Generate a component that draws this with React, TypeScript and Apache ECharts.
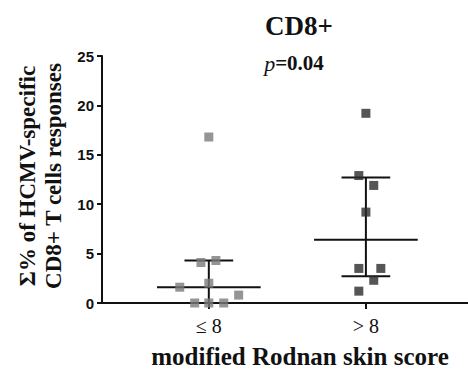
import React, { useEffect, useRef } from "react";
import * as echarts from "echarts";

const groups = ["≤ 8", "> 8"];
const yTicks = [0, 5, 10, 15, 20, 25];
const lowValues = [16.8, 4.1, 4.3, 2.0, 1.6, 0.8, 0, 0, 0];
const lowJitter = [0, -0.05, 0.045, 0, -0.185, 0.19, -0.09, 0, 0.095];
const highValues = [19.2, 12.9, 11.9, 9.2, 3.5, 3.5, 2.3, 1.2];
const highJitter = [0, -0.045, 0.05, 0, -0.045, 0.095, 0.05, -0.045];
const medians = [1.6, 6.4];
const q1 = [0, 2.7];
const q3 = [4.3, 12.7];

export default function App() {
  const ref = useRef<HTMLDivElement>(null);
  useEffect(() => {
    if (!ref.current) return;
    const chart = echarts.init(ref.current, null, { renderer: "svg" });
    const lineStyle = { color: "#111", width: 2 };
    const seg = (pts: number[][]) => ({
      type: "line",
      data: pts,
      symbol: "none",
      lineStyle,
      silent: true,
      z: 3,
    });
    const lineSeries: any[] = [];
    groups.forEach((_, i) => {
      const cx = i + 1;
      lineSeries.push(seg([[cx - 0.33, medians[i]], [cx + 0.33, medians[i]]]));
      lineSeries.push(seg([[cx - 0.155, q3[i]], [cx + 0.155, q3[i]]]));
      if (q1[i] > 0) lineSeries.push(seg([[cx - 0.155, q1[i]], [cx + 0.155, q1[i]]]));
      lineSeries.push(seg([[cx, q1[i]], [cx, q3[i]]]));
    });
    chart.setOption({
      animation: false,
      grid: { left: 102, right: 0, top: 56, bottom: 68 },
      xAxis: {
        type: "value",
        min: 0.32,
        max: 2.65,
        axisLine: { show: true, lineStyle: { color: "#111", width: 2 } },
        axisTick: { show: true, customValues: [1, 2], length: 6, lineStyle: { color: "#111", width: 2 } },
        axisLabel: {
          customValues: [1, 2],
          formatter: (v: number) => groups[Math.round(v) - 1] ?? "",
          fontFamily: "Liberation Serif",
          fontSize: 20,
          color: "#111",
          margin: 13,
        },
        splitLine: { show: false },
      },
      yAxis: {
        type: "value",
        min: 0,
        max: 25,
        interval: 5,
        axisLine: { show: true, lineStyle: { color: "#111", width: 2 } },
        axisTick: { show: true, length: 5, lineStyle: { color: "#111", width: 2 } },
        axisLabel: {
          fontFamily: "Liberation Sans",
          fontWeight: "bold",
          fontSize: 15,
          color: "#111",
          margin: 8,
          customValues: yTicks,
        },
        splitLine: { show: false },
      },
      series: [
        {
          type: "scatter",
          data: lowValues.map((v, k) => [1 + lowJitter[k], v]),
          symbol: "rect",
          symbolSize: 9,
          itemStyle: { color: "#7b7b7b" },
          z: 4,
        },
        {
          type: "scatter",
          data: highValues.map((v, k) => [2 + highJitter[k], v]),
          symbol: "rect",
          symbolSize: 9,
          itemStyle: { color: "#2b2b2b" },
          z: 4,
        },
        ...lineSeries,
      ],
      graphic: [
        {
          type: "text",
          x: 299,
          y: 26,
          style: {
            text: "CD8+",
            fontFamily: "Liberation Serif",
            fontWeight: "bold",
            fontSize: 27,
            fill: "#111",
            align: "center",
            verticalAlign: "middle",
          },
        },
        {
          type: "text",
          x: 294,
          y: 63,
          style: {
            text: "{i|p}=0.04",
            fontFamily: "Liberation Serif",
            fontWeight: "bold",
            fontSize: 21,
            fill: "#111",
            align: "center",
            verticalAlign: "middle",
            rich: {
              i: {
                fontFamily: "Liberation Serif",
                fontStyle: "italic",
                fontWeight: "normal",
                fontSize: 22,
                fill: "#111",
              },
            },
          },
        },
        {
          type: "text",
          x: 40,
          y: 176,
          rotation: Math.PI / 2,
          style: {
            text: "Σ% of HCMV-specific\nCD8+ T cells responses",
            fontFamily: "Liberation Serif",
            fontWeight: "bold",
            fontSize: 23,
            lineHeight: 26,
            fill: "#111",
            align: "center",
            verticalAlign: "middle",
          },
        },
        {
          type: "text",
          x: 300,
          y: 356,
          style: {
            text: "modified Rodnan skin score",
            fontFamily: "Liberation Serif",
            fontWeight: "bold",
            fontSize: 25,
            fill: "#111",
            align: "center",
            verticalAlign: "middle",
          },
        },
      ],
    });
    return () => chart.dispose();
  }, []);
  return <div ref={ref} style={{ width: 468, height: 371, position: "absolute", left: 0, top: 0 }} />;
}
